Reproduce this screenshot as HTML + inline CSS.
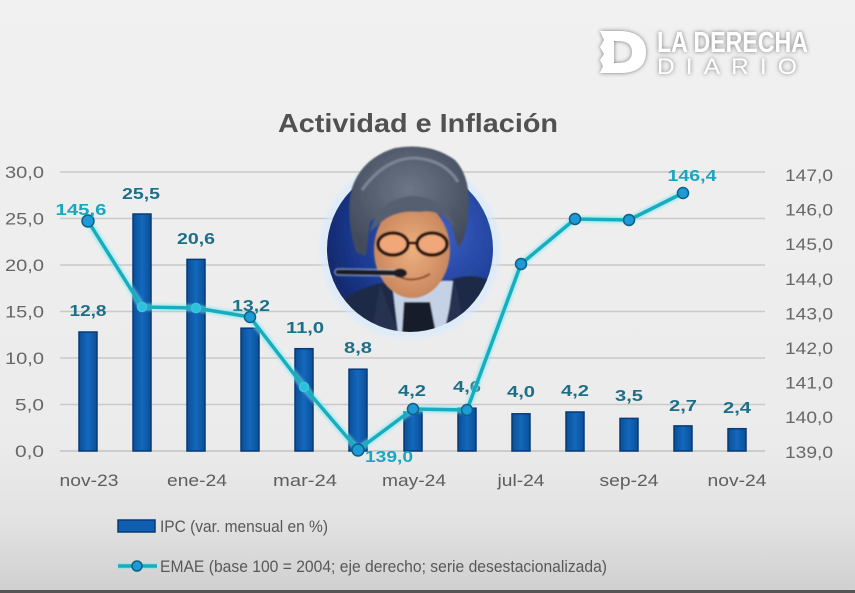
<!DOCTYPE html>
<html>
<head>
<meta charset="utf-8">
<style>
html,body{margin:0;padding:0;background:#efefef;}
svg{display:block;}
text{font-family:"Liberation Sans",sans-serif;}
</style>
</head>
<body>
<svg width="855" height="593" viewBox="0 0 855 593" xmlns="http://www.w3.org/2000/svg">
<defs>
  <linearGradient id="bg" x1="0" y1="0" x2="0" y2="1">
    <stop offset="0" stop-color="#f1f1f1"/>
    <stop offset="0.75" stop-color="#ebebeb"/>
    <stop offset="0.88" stop-color="#e2e2e2"/>
    <stop offset="1" stop-color="#cfcfcf"/>
  </linearGradient>
  <linearGradient id="bar" x1="0" y1="0" x2="1" y2="0">
    <stop offset="0" stop-color="#0a4f98"/>
    <stop offset="0.5" stop-color="#1468bd"/>
    <stop offset="1" stop-color="#0a4f98"/>
  </linearGradient>
  <radialGradient id="photoBg" cx="0.65" cy="0.4" r="0.7">
    <stop offset="0" stop-color="#3b60c4"/>
    <stop offset="0.6" stop-color="#1d3d96"/>
    <stop offset="1" stop-color="#0f2260"/>
  </radialGradient>
  <radialGradient id="skin" cx="0.5" cy="0.5" r="0.6">
    <stop offset="0" stop-color="#eeb07e"/>
    <stop offset="1" stop-color="#c27f58"/>
  </radialGradient>
  <radialGradient id="hair" cx="0.5" cy="0.4" r="0.6">
    <stop offset="0" stop-color="#6c7687"/>
    <stop offset="1" stop-color="#434c5c"/>
  </radialGradient>
  <clipPath id="circ"><circle cx="410" cy="249" r="83"/></clipPath>
  <filter id="glow" x="-20%" y="-20%" width="140%" height="140%">
    <feGaussianBlur stdDeviation="3"/>
  </filter>
  <filter id="soft" x="-10%" y="-10%" width="120%" height="120%">
    <feGaussianBlur stdDeviation="1.2"/>
  </filter>
  <filter id="blur1" x="-10%" y="-10%" width="120%" height="120%">
    <feGaussianBlur stdDeviation="0.9"/>
  </filter>
  <filter id="logoShadow" x="-10%" y="-20%" width="120%" height="140%">
    <feDropShadow dx="0" dy="0" stdDeviation="2" flood-color="#555" flood-opacity="0.8"/>
  </filter>
</defs>

<rect x="0" y="0" width="855" height="593" fill="url(#bg)"/>
<rect x="0" y="590" width="855" height="3" fill="#555"/>

<!-- Logo -->
<g filter="url(#logoShadow)" fill="#ffffff">
  <path d="M600 31 L622 31 Q646 33 646 52 Q646 72 622 73 L600 73 L603 66 L600 60 L604 54 L600 47 L604 40 Z M614 41 L614 63 L620 63 Q632 62 632 52 Q632 42 620 41 Z"/>
  <text x="657" y="52" font-size="29" font-weight="bold" textLength="151" lengthAdjust="spacingAndGlyphs">LA DERECHA</text>
  <text x="657" y="74" font-size="22" textLength="151" lengthAdjust="spacingAndGlyphs" letter-spacing="10">DIARIO</text>
</g>

<!-- Title -->
<text x="278" y="132" font-size="26" font-weight="bold" fill="#515151" textLength="280" lengthAdjust="spacingAndGlyphs">Actividad e Inflación</text>

<!-- Gridlines -->
<g stroke="#c9c9c9" stroke-width="1.5">
  <line x1="60" y1="172" x2="765" y2="172"/>
  <line x1="60" y1="218.5" x2="765" y2="218.5"/>
  <line x1="60" y1="265" x2="765" y2="265"/>
  <line x1="60" y1="311.5" x2="765" y2="311.5"/>
  <line x1="60" y1="358" x2="765" y2="358"/>
  <line x1="60" y1="404.5" x2="765" y2="404.5"/>
  <line x1="60" y1="451" x2="765" y2="451" stroke="#c2c2c2"/>
</g>

<!-- Left axis labels -->
<g font-size="16.5" fill="#676767" text-anchor="end">
  <text x="44" y="178" textLength="39" lengthAdjust="spacingAndGlyphs">30,0</text>
  <text x="44" y="224.5" textLength="39" lengthAdjust="spacingAndGlyphs">25,0</text>
  <text x="44" y="271" textLength="39" lengthAdjust="spacingAndGlyphs">20,0</text>
  <text x="44" y="317.5" textLength="39" lengthAdjust="spacingAndGlyphs">15,0</text>
  <text x="44" y="364" textLength="39" lengthAdjust="spacingAndGlyphs">10,0</text>
  <text x="44" y="410.5" textLength="29" lengthAdjust="spacingAndGlyphs">5,0</text>
  <text x="44" y="457" textLength="29" lengthAdjust="spacingAndGlyphs">0,0</text>
</g>

<!-- Right axis labels -->
<g font-size="16.5" fill="#676767">
  <text x="785" y="181" textLength="48" lengthAdjust="spacingAndGlyphs">147,0</text>
  <text x="785" y="215.6" textLength="48" lengthAdjust="spacingAndGlyphs">146,0</text>
  <text x="785" y="250.2" textLength="48" lengthAdjust="spacingAndGlyphs">145,0</text>
  <text x="785" y="284.8" textLength="48" lengthAdjust="spacingAndGlyphs">144,0</text>
  <text x="785" y="319.4" textLength="48" lengthAdjust="spacingAndGlyphs">143,0</text>
  <text x="785" y="354" textLength="48" lengthAdjust="spacingAndGlyphs">142,0</text>
  <text x="785" y="388.6" textLength="48" lengthAdjust="spacingAndGlyphs">141,0</text>
  <text x="785" y="423.2" textLength="48" lengthAdjust="spacingAndGlyphs">140,0</text>
  <text x="785" y="458" textLength="48" lengthAdjust="spacingAndGlyphs">139,0</text>
</g>

<!-- X labels -->
<g font-size="16.5" fill="#5e5e5e" text-anchor="middle">
  <text x="89" y="486" textLength="59" lengthAdjust="spacingAndGlyphs">nov-23</text>
  <text x="197" y="486" textLength="60" lengthAdjust="spacingAndGlyphs">ene-24</text>
  <text x="305" y="486" textLength="64" lengthAdjust="spacingAndGlyphs">mar-24</text>
  <text x="414" y="486" textLength="64" lengthAdjust="spacingAndGlyphs">may-24</text>
  <text x="521" y="486" textLength="47" lengthAdjust="spacingAndGlyphs">jul-24</text>
  <text x="629" y="486" textLength="59" lengthAdjust="spacingAndGlyphs">sep-24</text>
  <text x="737" y="486" textLength="59" lengthAdjust="spacingAndGlyphs">nov-24</text>
</g>

<!-- Bars -->
<g fill="url(#bar)" stroke="#083a75" stroke-width="1.5">
  <rect x="79" y="332" width="18" height="119"/>
  <rect x="133" y="214" width="18" height="237"/>
  <rect x="187" y="259.4" width="18" height="191.6"/>
  <rect x="241" y="328.2" width="18" height="122.8"/>
  <rect x="295" y="348.7" width="18" height="102.3"/>
  <rect x="349" y="369.2" width="18" height="81.8"/>
  <rect x="404" y="412" width="18" height="39"/>
  <rect x="458" y="408.2" width="18" height="42.8"/>
  <rect x="512" y="413.8" width="18" height="37.2"/>
  <rect x="566" y="412" width="18" height="39"/>
  <rect x="620" y="418.4" width="18" height="32.6"/>
  <rect x="674" y="425.9" width="18" height="25.1"/>
  <rect x="728" y="428.7" width="18" height="22.3"/>
</g>

<!-- Bar labels -->
<g font-size="16" font-weight="bold" fill="#1d6f88" text-anchor="middle">
  <text x="88" y="316" textLength="37" lengthAdjust="spacingAndGlyphs">12,8</text>
  <text x="141" y="199" textLength="38" lengthAdjust="spacingAndGlyphs">25,5</text>
  <text x="196" y="244" textLength="38" lengthAdjust="spacingAndGlyphs">20,6</text>
  <text x="251" y="311" textLength="38" lengthAdjust="spacingAndGlyphs">13,2</text>
  <text x="305" y="333" textLength="38" lengthAdjust="spacingAndGlyphs">11,0</text>
  <text x="358" y="353" textLength="28" lengthAdjust="spacingAndGlyphs">8,8</text>
  <text x="412" y="396" textLength="28" lengthAdjust="spacingAndGlyphs">4,2</text>
  <text x="467" y="392" textLength="28" lengthAdjust="spacingAndGlyphs">4,6</text>
  <text x="521" y="397" textLength="28" lengthAdjust="spacingAndGlyphs">4,0</text>
  <text x="575" y="396" textLength="28" lengthAdjust="spacingAndGlyphs">4,2</text>
  <text x="629" y="401" textLength="28" lengthAdjust="spacingAndGlyphs">3,5</text>
  <text x="683" y="411" textLength="28" lengthAdjust="spacingAndGlyphs">2,7</text>
  <text x="737" y="413" textLength="28" lengthAdjust="spacingAndGlyphs">2,4</text>
</g>

<!-- EMAE line -->
<polyline points="88,221 142,307 196,308 250,317 304,387 358,450 413,409 467,410 521,264 575,219 629,220 683,193"
  fill="none" stroke="#7fe6f0" stroke-width="7" stroke-linejoin="round" opacity="0.6" filter="url(#soft)"/>
<polyline points="88,221 142,307 196,308 250,317 304,387 358,450 413,409 467,410 521,264 575,219 629,220 683,193"
  fill="none" stroke="#16aebf" stroke-width="3.5" stroke-linejoin="round"/>
<g fill="#1c9ad6" stroke="#0e5f82" stroke-width="1.5">
  <circle cx="88" cy="221" r="6"/>
  <circle cx="142" cy="307" r="4.5" fill="#2bc0de" stroke="#39c8da"/>
  <circle cx="196" cy="308" r="4.5" fill="#2bc0de" stroke="#39c8da"/>
  <circle cx="250" cy="317" r="5.5"/>
  <circle cx="304" cy="387" r="4.5" fill="#2bc0de" stroke="#39c8da"/>
  <circle cx="358" cy="450" r="6"/>
  <circle cx="413" cy="409" r="5.5"/>
  <circle cx="467" cy="410" r="5.5"/>
  <circle cx="521" cy="264" r="5.5"/>
  <circle cx="575" cy="219" r="5.5"/>
  <circle cx="629" cy="220" r="5.5"/>
  <circle cx="683" cy="193" r="5.5"/>
</g>

<!-- Line labels -->
<g font-size="16" font-weight="bold" fill="#17a7bf" text-anchor="middle">
  <text x="81" y="215" textLength="51" lengthAdjust="spacingAndGlyphs">145,6</text>
  <text x="389" y="462" textLength="48" lengthAdjust="spacingAndGlyphs">139,0</text>
  <text x="692" y="181" textLength="49" lengthAdjust="spacingAndGlyphs">146,4</text>
</g>

<!-- Photo -->
<circle cx="410" cy="249" r="86" fill="none" stroke="#d4eaff" stroke-width="5" filter="url(#glow)"/>
<g clip-path="url(#circ)" filter="url(#blur1)">
  <rect x="320" y="160" width="180" height="180" fill="url(#photoBg)"/>
  <!-- suit -->
  <path d="M322 318 Q345 292 380 283 L445 283 Q470 268 500 285 L500 340 L322 340 Z" fill="#1e2946"/>
  <!-- shirt collar -->
  <path d="M392 281 L453 281 L446 333 L398 333 Z" fill="#c5d2e6"/>
  <!-- tie -->
  <path d="M404 302 L430 302 L436 333 L402 333 Z" fill="#141a2b"/>
  <!-- lapels -->
  <path d="M380 284 L398 333 L372 333 Z" fill="#26314f"/>
  <path d="M455 282 L444 333 L466 333 Z" fill="#26314f"/>
</g>
<g filter="url(#blur1)">
  <!-- hair back (extends above circle) -->
  <path d="M356 252 Q345 215 352 188 Q362 158 395 148 Q430 142 455 160 Q472 178 468 215 Q466 240 458 248 L450 220 Q430 208 410 208 Q385 208 370 222 L366 256 Z" fill="url(#hair)"/>
  <!-- face -->
  <ellipse cx="412" cy="250" rx="38" ry="48" fill="url(#skin)"/>
  <!-- fringe -->
  <path d="M370 232 Q378 200 410 196 Q445 196 455 228 Q440 208 420 212 Q398 210 384 220 Q376 226 370 232 Z" fill="#555f70"/>
  <path d="M362 190 Q385 158 415 158 Q445 160 458 182" fill="none" stroke="#7a8494" stroke-width="3"/>
  <!-- glasses -->
  <g stroke="#2a1610" stroke-width="3.5" fill="#f0a77a">
    <ellipse cx="393" cy="244" rx="15" ry="11"/>
    <ellipse cx="432" cy="244" rx="15" ry="11"/>
  </g>
  <line x1="408" y1="243" x2="417" y2="243" stroke="#2a1610" stroke-width="3"/>
  <!-- smile -->
  <path d="M398 276 Q413 284 430 274" fill="none" stroke="#8a4f36" stroke-width="2"/>
  <!-- mic -->
  <line x1="338" y1="272" x2="398" y2="273" stroke="#a9c6ee" stroke-width="8" stroke-linecap="round" opacity="0.5"/>
  <line x1="338" y1="272" x2="398" y2="273" stroke="#1a1c24" stroke-width="5" stroke-linecap="round"/>
  <ellipse cx="400" cy="273" rx="7" ry="4.5" fill="#1c1e26"/>
</g>

<!-- Legend -->
<rect x="118" y="520" width="37" height="12" fill="#0f5eb0" stroke="#083a75" stroke-width="1.5"/>
<text x="160" y="532" font-size="17" fill="#585858" textLength="168" lengthAdjust="spacingAndGlyphs">IPC (var. mensual en %)</text>
<line x1="118" y1="566" x2="157" y2="566" stroke="#7fe6f0" stroke-width="6" opacity="0.6"/>
<line x1="118" y1="566" x2="157" y2="566" stroke="#16aebf" stroke-width="3.5"/>
<circle cx="137" cy="566" r="5" fill="#1c9ad6" stroke="#0e5f82" stroke-width="1.5"/>
<text x="160" y="572" font-size="17" fill="#585858" textLength="447" lengthAdjust="spacingAndGlyphs">EMAE (base 100 = 2004; eje derecho; serie desestacionalizada)</text>
</svg>
</body>
</html>
